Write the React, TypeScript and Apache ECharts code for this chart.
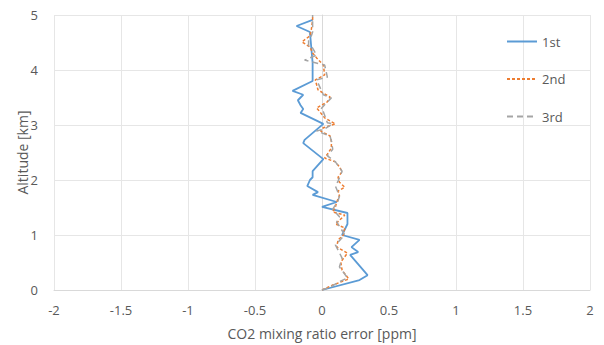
import React, { useEffect, useRef } from "react";
import * as echarts from "echarts";

// altitude [km] and error [ppm] for each series (bottom -> top)
const alt1 = [0, 0.18, 0.27, 0.64, 0.69, 0.78, 0.91, 1.0, 1.2, 1.4, 1.51, 1.6, 1.73, 1.78, 1.89, 2.0, 2.05, 2.16, 2.38, 2.67, 2.73, 3.02, 3.22, 3.29, 3.36, 3.45, 3.55, 3.62, 3.8, 4.13, 4.69, 4.8, 4.91];
const err1 = [0.0, 0.28, 0.34, 0.21, 0.27, 0.22, 0.28, 0.15, 0.19, 0.19, 0.0, 0.11, -0.07, -0.03, -0.11, -0.09, -0.07, -0.07, 0.01, -0.14, -0.13, 0.01, -0.16, -0.14, -0.16, -0.18, -0.14, -0.22, -0.07, -0.07, -0.09, -0.19, -0.07];

const alt2 = [0, 0.09, 0.2, 0.36, 0.51, 0.67, 0.78, 0.91, 1.0, 1.13, 1.2, 1.36, 1.42, 1.51, 1.6, 1.71, 1.8, 1.87, 1.96, 2.05, 2.15, 2.24, 2.33, 2.4, 2.47, 2.58, 2.71, 2.8, 2.89, 2.95, 3.02, 3.13, 3.22, 3.31, 3.42, 3.51, 3.58, 3.64, 3.82, 3.91, 4.09, 4.22, 4.31, 4.42, 4.51, 4.62, 4.73, 4.91, 5.0];
const err2 = [0.0, 0.08, 0.2, 0.15, 0.14, 0.19, 0.11, 0.12, 0.16, 0.17, 0.1, 0.17, 0.08, 0.1, 0.11, 0.13, 0.12, 0.17, 0.13, 0.12, 0.15, 0.13, 0.1, 0.02, 0.04, 0.07, 0.07, 0.06, -0.01, 0.01, 0.1, 0.02, -0.01, -0.04, 0.04, 0.06, 0.01, -0.03, -0.05, 0.02, 0.01, -0.04, -0.07, -0.09, -0.15, -0.09, -0.08, -0.07, -0.07];

const alt3 = [0, 0.05, 0.15, 0.22, 0.42, 0.58, 0.82, 1.0, 1.24, 1.33, 1.47, 1.62, 1.71, 1.89, 1.98, 2.16, 2.33, 2.44, 2.56, 2.71, 2.8, 2.89, 2.93, 3.02, 3.04, 3.24, 3.29, 3.42, 3.49, 3.55, 3.82, 3.87, 4.09, 4.18, 4.27, 4.4, 4.42, 4.55, 4.62, 4.69, 5.0];
const err3 = [0.0, 0.06, 0.13, 0.19, 0.13, 0.15, 0.1, 0.17, 0.11, 0.13, 0.08, 0.12, 0.13, 0.1, 0.12, 0.15, 0.1, 0.04, 0.08, 0.07, 0.06, -0.04, 0.02, 0.08, 0.04, 0.01, -0.01, 0.04, 0.07, 0.01, -0.04, 0.04, 0.02, -0.13, -0.04, -0.07, -0.1, -0.1, -0.08, -0.07, -0.07];

const seriesNames = ["1st", "2nd", "3rd"];
const xTicks = [-2, -1.5, -1, -0.5, 0, 0.5, 1, 1.5, 2];
const yTicks = [0, 1, 2, 3, 4, 5];

const FONT = "'Open Sans', 'Noto Sans', sans-serif";
const TXT = "#595959";

function pairs(xs: number[], ys: number[]) {
  return xs.map((x, i) => [x, ys[i]]);
}

export default function App() {
  const ref = useRef<HTMLDivElement>(null);
  useEffect(() => {
    document.body.style.margin = "0";
    if (!ref.current) return;
    const chart = echarts.init(ref.current, undefined, { renderer: "svg" });
    chart.setOption({
      animation: false,
      textStyle: { fontFamily: FONT },
      grid: { left: 54, right: 14, top: 15, bottom: 55, outerBoundsMode: "none", containLabel: false },
      legend: {
        orient: "vertical",
        left: 506,
        top: 35,
        padding: 0,
        itemWidth: 30,
        itemHeight: 14,
        itemGap: 24.5,
        itemStyle: { opacity: 0 },
        textStyle: { color: TXT, fontSize: 13, fontFamily: FONT },
        data: seriesNames,
      },
      xAxis: {
        type: "value",
        min: xTicks[0],
        max: xTicks[xTicks.length - 1],
        interval: 0.5,
        name: "CO2 mixing ratio error [ppm]",
        nameLocation: "middle",
        nameGap: 36,
        nameMoveOverlap: false,
        nameTextStyle: { color: TXT, fontSize: 14, fontFamily: FONT },
        axisLine: { show: true, onZero: false, lineStyle: { color: "#d9d9d9" } },
        axisTick: { show: false },
        axisLabel: { color: TXT, fontSize: 13, margin: 13, fontFamily: FONT },
        splitLine: { show: true, lineStyle: { color: "#e6e6e6" } },
      },
      yAxis: {
        type: "value",
        min: yTicks[0],
        max: yTicks[yTicks.length - 1],
        interval: 1,
        name: "Altitude [km]",
        nameLocation: "middle",
        nameGap: 25,
        nameMoveOverlap: false,
        nameTextStyle: { color: TXT, fontSize: 14, fontFamily: FONT },
        axisLine: { show: true, lineStyle: { color: "#d9d9d9" } },
        axisTick: { show: false },
        axisLabel: { color: TXT, fontSize: 13, margin: 16, fontFamily: FONT },
        splitLine: { show: true, lineStyle: { color: "#e6e6e6" } },
      },
      series: [
        {
          name: seriesNames[0],
          type: "line",
          symbol: "none",
          data: pairs(err1, alt1),
          lineStyle: { color: "#5B9BD5", width: 1.8, type: "solid" },
          itemStyle: { color: "#5B9BD5" },
        },
        {
          name: seriesNames[1],
          type: "line",
          symbol: "none",
          data: pairs(err2, alt2),
          lineStyle: { color: "#ED7D31", width: 1.5, type: [3, 2] },
          itemStyle: { color: "#ED7D31" },
        },
        {
          name: seriesNames[2],
          type: "line",
          symbol: "none",
          data: pairs(err3, alt3),
          lineStyle: { color: "#A5A5A5", width: 1.5, type: [6, 4] },
          itemStyle: { color: "#A5A5A5" },
        },
      ],
    });
    return () => chart.dispose();
  }, []);
  return <div ref={ref} style={{ width: 604, height: 345 }} />;
}
